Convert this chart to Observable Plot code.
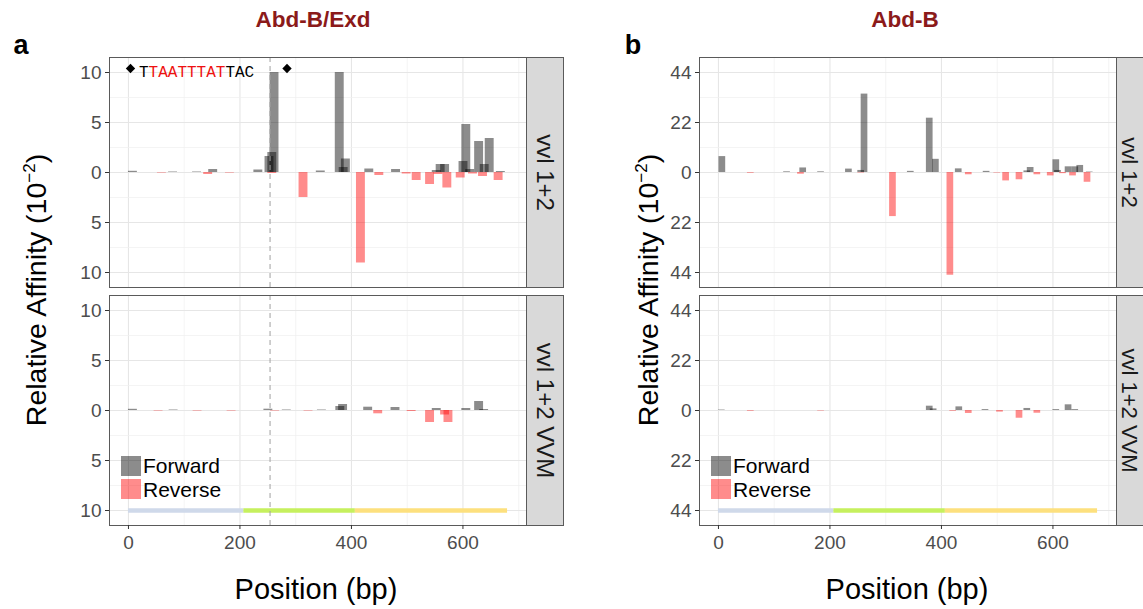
<!DOCTYPE html>
<html>
<head>
<meta charset="utf-8">
<script src="https://cdn.jsdelivr.net/npm/d3@7"></script>
<script src="https://cdn.jsdelivr.net/npm/@observablehq/plot@0.6"></script>
<style>
  html, body { margin: 0; padding: 0; background: #fff; }
  #root { position: relative; width: 1143px; height: 609px; overflow: hidden; background: #fff;
          font-family: "Liberation Sans", Arial, sans-serif; color: #000; }
  #root svg { position: absolute; top: 0; overflow: visible; }
  .title { position: absolute; top: 20px; transform: translate(-50%, -50%); font-weight: bold;
           font-size: 22.5px; color: #8b1a1a; white-space: nowrap; }
  .tag { position: absolute; top: 45px; transform: translate(-50%, -50%); font-weight: bold; font-size: 27px; }
  .ytitle { position: absolute; top: 290px; transform: translate(-50%, -50%) rotate(-90deg);
            white-space: nowrap; font-size: 28.5px; }
  .ytitle sup { font-size: 17px; }
  .xtitle { position: absolute; top: 589px; transform: translate(-50%, -50%); white-space: nowrap; font-size: 29px; }
  .legend { position: absolute; top: 454px; font-size: 21px; line-height: 21px; }
  .legend .row { display: flex; align-items: center; height: 23.5px; }
  .legend .key { width: 20px; height: 20px; margin-right: 2px; }
</style>
</head>
<body>
<div id="root"></div>
<script>
// ---------------- data ----------------
const facets = ["vvl 1+2", "vvl 1+2 VVM"];
const positionTicks = [0, 200, 400, 600];
const positionMinor = [100, 300, 500, 700];
const sequenceEnd = 680;

// enhancer sub-regions drawn along the bottom
const regionStart = [0, 207, 407];
const regionEnd = [207, 407, 680];

// Panel a : Abd-B/Exd  ([site start bp, relative affinity x10^-2])
const aTicks = [-10, -5, 0, 5, 10];
const aMinor = [-7.5, -2.5, 2.5, 7.5];
const aSite = 254;
const aFwdTop = [[0, 0.12], [72, 0.05], [115, 0.05], [144, 0.3], [225, 0.25], [245, 1.6], [250, 2.0], [254, 10.0],
  [337, 0.15], [371, 10.0], [378, 0.5], [382, 1.35], [424, 0.35], [472, 0.3], [545, 0.2], [552, 0.8], [560, 0.8],
  [593, 1.1], [598, 4.8], [605, 0.3], [621, 3.1], [631, 0.8], [640, 3.4], [660, 0.1]];
const aRevTop = [[52, 0.05], [135, 0.2], [174, 0.05], [250, 0.1], [306, 2.5], [409, 9.05], [442, 0.3], [491, 0.15],
  [509, 0.8], [533, 1.2], [548, 0.2], [564, 1.55], [588, 0.55], [610, 0.15], [628, 0.4], [656, 0.8]];
const aFwdBot = [[0, 0.12], [73, 0.05], [243, 0.13], [276, 0.05], [339, 0.05], [372, 0.4], [377, 0.6], [422, 0.33],
  [471, 0.3], [545, 0.2], [598, 0.2], [621, 0.9], [630, 0.1]];
const aRevBot = [[46, 0.05], [116, 0.05], [177, 0.05], [255, 0.05], [315, 0.05], [440, 0.33], [500, 0.1], [533, 1.2],
  [560, 0.45], [566, 1.2]];

// Panel b : Abd-B
const bTicks = [-44, -22, 0, 22, 44];
const bMinor = [-33, -11, 11, 33];
const bFwdTop = [[1, 7.0], [117, 0.3], [146, 2.0], [178, 0.3], [228, 1.5], [250, 0.9], [256, 34.5], [339, 0.5],
  [373, 23.9], [384, 5.8], [425, 1.6], [475, 0.5], [548, 0.7], [554, 2.2], [600, 5.6], [603, 0.9], [622, 2.5],
  [634, 2.5], [643, 3.1], [660, 0.2]];
const bRevTop = [[52, 0.3], [142, 0.75], [250, 0.2], [307, 19.4], [410, 45.2], [443, 1.0], [494, 0.2], [510, 3.7],
  [534, 3.2], [566, 1.0], [590, 1.5], [612, 0.5], [630, 1.5], [656, 4.3]];
const bFwdBot = [[0, 0.2], [373, 1.9], [380, 0.7], [426, 1.6], [473, 0.4], [548, 0.9], [600, 0.4], [622, 2.5], [634, 0.4]];
const bRevBot = [[52, 0.3], [178, 0.2], [415, 0.3], [443, 1.3], [499, 0.7], [534, 3.4], [566, 1.2]];

// annotation (motif) for panel a
const motifParts = ["T", "TAATTTAT", "TAC"];

// ---------------- drawing ----------------
const W = 580, H = 609, ML = 109, MR = 54, MT = 56, MB = 84, STRIP = 37;
const innerW = W - ML - MR;

function rows(top, bot) {
  const out = [];
  top.forEach(([p, v]) => out.push({facet: facets[0], p, v}));
  bot.forEach(([p, v]) => out.push({facet: facets[1], p, v}));
  return out;
}

function panel({fwd, rev, ticks, minor, barW, site, motif, stripDx, stripFont}) {
  const tickMax = d3.max(ticks);
  const lim = tickMax * 1.15;
  const regions = regionStart.map((s, i) => ({facet: facets[1], s, e: regionEnd[i], c: ["#cfd9ea", "#c6f05e", "#fde07e"][i]}));
  const marks = [
    Plot.gridX({ticks: positionMinor, stroke: "#efefef", strokeOpacity: 1, strokeWidth: 0.7}),
    Plot.gridX({ticks: positionTicks, stroke: "#e6e6e6", strokeOpacity: 1, strokeWidth: 1.1}),
    Plot.gridY({ticks: minor, stroke: "#efefef", strokeOpacity: 1, strokeWidth: 0.7}),
    Plot.gridY({ticks: ticks, stroke: "#e6e6e6", strokeOpacity: 1, strokeWidth: 1.1}),
    Plot.rect(fwd, {fy: "facet", x1: "p", x2: d => d.p + barW, y1: d => 0, y2: "v", fill: "black", fillOpacity: 0.45}),
    Plot.rect(rev, {fy: "facet", x1: "p", x2: d => d.p + barW, y1: d => 0, y2: d => -d.v, fill: "red", fillOpacity: 0.45}),
    Plot.ruleY(regions, {fy: "facet", x1: "s", x2: "e", y: d => -tickMax, stroke: "c", strokeWidth: 4.5}),
    Plot.ruleX(site != null ? [site] : [], {stroke: "#a0a0a0", strokeDasharray: "5,4", strokeWidth: 1}),
    Plot.frame({stroke: "#5a5a5a"}),
    Plot.frame({fill: "#d9d9d9", stroke: "#5a5a5a", insetLeft: innerW, insetRight: -STRIP}),
    Plot.text(facets, {fy: d => d, text: d => d, frameAnchor: "right", dx: stripDx, rotate: 90,
      textAnchor: "middle", lineAnchor: "middle", fontSize: stripFont, fill: "#1a1a1a"}),
    Plot.axisY({ticks, tickFormat: d => Math.abs(d), tickSize: 4, tickPadding: 4, stroke: "#333", fill: "#4d4d4d",
      label: null, fontSize: 19}),
    Plot.axisX({ticks: positionTicks, tickSize: 4, tickPadding: 6, stroke: "#333", fill: "#4d4d4d", label: null, fontSize: 19})
  ];
  if (motif) {
    const top = [{facet: facets[0]}];
    const mono = "Liberation Mono, DejaVu Sans Mono, monospace";
    marks.push(
      Plot.dot(top, {fy: "facet", frameAnchor: "top-left", dx: 21, dy: 11, symbol: "diamond2", r: 4.2, fill: "black", stroke: "none"}),
      Plot.dot(top, {fy: "facet", frameAnchor: "top-left", dx: 177.5, dy: 11, symbol: "diamond2", r: 4.2, fill: "black", stroke: "none"}),
      Plot.text(top, {fy: "facet", frameAnchor: "top-left", dx: 29.5, dy: 14, text: () => motif[0], textAnchor: "start",
        lineAnchor: "middle", fontFamily: mono, fontSize: 16, fill: "black"}),
      Plot.text(top, {fy: "facet", frameAnchor: "top-left", dx: 29.5 + 9.6, dy: 14, text: () => motif[1], textAnchor: "start",
        lineAnchor: "middle", fontFamily: mono, fontSize: 16, fill: "#ee1111"}),
      Plot.text(top, {fy: "facet", frameAnchor: "top-left", dx: 29.5 + 9.6 * 9, dy: 14, text: () => motif[2], textAnchor: "start",
        lineAnchor: "middle", fontFamily: mono, fontSize: 16, fill: "black"})
    );
  }
  return Plot.plot({
    width: W, height: H, marginLeft: ML, marginRight: MR, marginTop: MT, marginBottom: MB,
    style: {fontFamily: "Liberation Sans, Arial, sans-serif", fontSize: "19px", background: "transparent", overflow: "visible"},
    x: {domain: [-0.05 * sequenceEnd, 1.05 * sequenceEnd]},
    y: {domain: [-lim, lim]},
    fy: {domain: facets, paddingInner: 0.035, paddingOuter: 0, axis: null},
    color: {type: "identity"},
    marks
  });
}

const root = document.getElementById("root");
const pa = panel({fwd: rows(aFwdTop, aFwdBot), rev: rows(aRevTop, aRevBot), ticks: aTicks, minor: aMinor, barW: 16,
  site: aSite, motif: motifParts, stripDx: STRIP / 2, stripFont: 24});
const pb = panel({fwd: rows(bFwdTop, bFwdBot), rev: rows(bRevTop, bRevBot), ticks: bTicks, minor: bMinor, barW: 12,
  site: null, motif: null, stripDx: 13, stripFont: 22});
pa.style.left = "0px";
pb.style.left = "590px";
root.appendChild(pa);
root.appendChild(pb);

function addHTML(html) { root.insertAdjacentHTML("beforeend", html); }
addHTML(`<div class="title" style="left:313px">Abd-B/Exd</div>`);
addHTML(`<div class="title" style="left:905px">Abd-B</div>`);
addHTML(`<div class="tag" style="left:21px">a</div>`);
addHTML(`<div class="tag" style="left:633px">b</div>`);
addHTML(`<div class="ytitle" style="left:36px">Relative Affinity (10<sup>−2</sup>)</div>`);
addHTML(`<div class="ytitle" style="left:648px">Relative Affinity (10<sup>−2</sup>)</div>`);
addHTML(`<div class="xtitle" style="left:316px">Position (bp)</div>`);
addHTML(`<div class="xtitle" style="left:907px">Position (bp)</div>`);
for (const left of [121, 711]) {
  addHTML(`<div class="legend" style="left:${left}px">
    <div class="row"><div class="key" style="background:rgba(0,0,0,0.45)"></div>Forward</div>
    <div class="row"><div class="key" style="background:rgba(255,0,0,0.45)"></div>Reverse</div>
  </div>`);
}
</script>
</body>
</html>
